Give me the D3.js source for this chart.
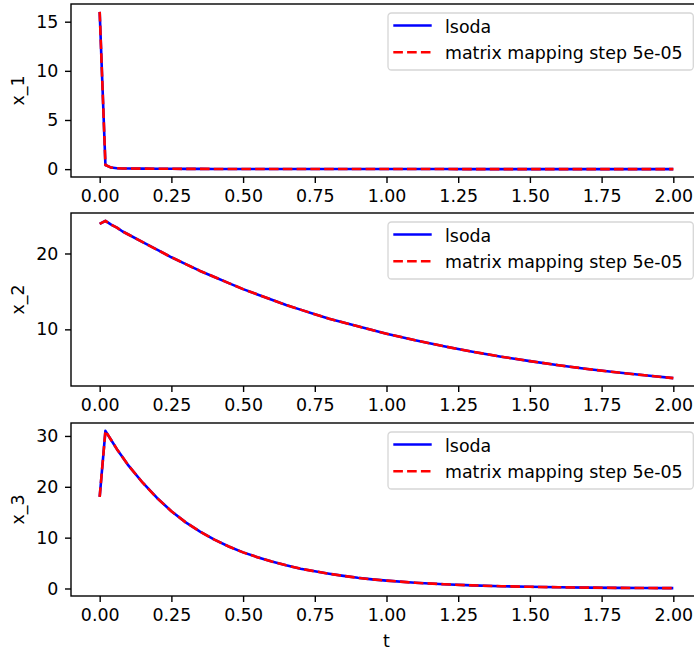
<!DOCTYPE html>
<html>
<head>
<meta charset="utf-8">
<script src="https://cdn.jsdelivr.net/npm/d3@7"></script>
<style>
    html, body { margin: 0; padding: 0; background: #ffffff; }
    svg { display: block; font-family: "DejaVu Sans", sans-serif; }
</style>
</head>
<body>
<svg></svg>
<script>

// time points
let tValues = [0, 0.02, 0.04, 0.06, 0.08, 0.1, 0.15, 0.2, 0.25, 0.3, 0.35, 0.4, 0.45, 0.5, 0.55,
               0.6, 0.65, 0.7, 0.75, 0.8, 0.85, 0.9, 0.95, 1.0,
               1.1, 1.2, 1.3, 1.4, 1.5, 1.6, 1.7, 1.8, 1.9, 2.0]

// lsoda solution
let x1Lsoda = [16.0, 0.42, 0.16, 0.09, 0.07, 0.06, 0.05, 0.04, 0.035, 0.03, 0.025, 0.02, 0.02, 0.02, 0.015,
               0.01, 0.01, 0.01, 0.01, 0.01, 0.01, 0.01, 0.01, 0.01,
               0.01, 0.01, 0.0, 0.0, 0.0, 0.0, 0.0, 0.0, 0.0, 0.0]
let x2Lsoda = [23.9, 24.3, 23.8, 23.4, 22.9, 22.5, 21.5, 20.5, 19.5, 18.6, 17.7, 16.9, 16.1, 15.3, 14.6,
               13.9, 13.2, 12.6, 12.0, 11.4, 10.9, 10.4, 9.9, 9.43,
               8.56, 7.77, 7.05, 6.40, 5.81, 5.27, 4.78, 4.34, 3.94, 3.57]
let x3Lsoda = [18.0, 31.0, 29.2, 27.4, 25.8, 24.2, 20.8, 17.8, 15.2, 13.0, 11.2, 9.6, 8.25, 7.1, 6.15,
               5.3, 4.55, 3.9, 3.38, 2.9, 2.48, 2.1, 1.8, 1.55,
               1.13, 0.83, 0.61, 0.45, 0.33, 0.24, 0.18, 0.13, 0.09, 0.07]

// matrix mapping solution (indistinguishable from lsoda in the picture)
let x1Mapping = x1Lsoda.slice()
let x2Mapping = x2Lsoda.slice()
let x3Mapping = x3Lsoda.slice()

// tick labels
let tTicks = [0, 0.25, 0.5, 0.75, 1.0, 1.25, 1.5, 1.75, 2.0]
let x1Ticks = [0, 5, 10, 15]
let x2Ticks = [10, 20]
let x3Ticks = [0, 10, 20, 30]

let seriesNames = ["lsoda", "matrix mapping step 5e-05"]
let yLabels = ["x_1", "x_2", "x_3"]

let width = 694
let height = 654
let left = 71
let right = 702
let panelTops = [4, 213, 423]
let panelHeight = 173
let fontSize = 17.4
let lineWidth = 2.6

let svg = d3.select("svg")
    .attr("width", width)
    .attr("height", height)

let xScale = d3.scaleLinear()
    .domain([-0.1, 2.1])
    .range([left, right])

let panels = [
    { lsoda: x1Lsoda, mapping: x1Mapping, ticks: x1Ticks },
    { lsoda: x2Lsoda, mapping: x2Mapping, ticks: x2Ticks },
    { lsoda: x3Lsoda, mapping: x3Mapping, ticks: x3Ticks }
]

let drawPanel = (panel, i) => {
    let top = panelTops[i]
    let bottom = top + panelHeight

    // matplotlib style 5% margins around the data
    let all = panel.lsoda.concat(panel.mapping)
    let lo = d3.min(all)
    let hi = d3.max(all)
    let pad = (hi - lo) * 0.05
    let yScale = d3.scaleLinear()
        .domain([lo - pad, hi + pad])
        .range([bottom, top])

    let g = svg.append("g")

    let xAxis = d3.axisBottom(xScale)
        .tickValues(tTicks)
        .tickFormat(d3.format(".2f"))
        .tickSizeInner(6)
        .tickSizeOuter(0)
        .tickPadding(6.6)

    let yAxis = d3.axisLeft(yScale)
        .tickValues(panel.ticks)
        .tickFormat(d3.format("d"))
        .tickSizeInner(6)
        .tickSizeOuter(0)
        .tickPadding(6.7)

    g.append("g")
        .attr("transform", "translate(0," + bottom + ")")
        .call(xAxis)

    g.append("g")
        .attr("transform", "translate(" + left + ",0)")
        .call(yAxis)

    g.selectAll(".domain").remove()
    g.selectAll(".tick line").attr("stroke", "#000").attr("stroke-width", 1.4)
    g.selectAll(".tick text")
        .attr("fill", "#000")
        .attr("font-family", "DejaVu Sans")
        .attr("font-size", fontSize)
    g.selectAll("g").attr("font-family", null).attr("font-size", null)

    let line = d3.line()
        .x((d, j) => xScale(tValues[j]))
        .y((d) => yScale(d))

    g.append("path")
        .datum(panel.lsoda)
        .attr("d", line)
        .attr("fill", "none")
        .attr("stroke", "#0000ff")
        .attr("stroke-width", lineWidth)
        .attr("stroke-linejoin", "round")

    g.append("path")
        .datum(panel.mapping)
        .attr("d", line)
        .attr("fill", "none")
        .attr("stroke", "#ff0000")
        .attr("stroke-width", lineWidth)
        .attr("stroke-dasharray", "9.6,4.2")
        .attr("stroke-linejoin", "round")

    // spines
    g.append("rect")
        .attr("x", left)
        .attr("y", top)
        .attr("width", right - left)
        .attr("height", panelHeight)
        .attr("fill", "none")
        .attr("stroke", "#000")
        .attr("stroke-width", 1.4)

    // y label
    g.append("text")
        .attr("transform", "translate(24," + (top + panelHeight / 2) + ") rotate(-90)")
        .attr("text-anchor", "middle")
        .attr("font-size", fontSize)
        .attr("fill", "#000")
        .text(yLabels[i])

    // legend
    let legend = g.append("g")
        .attr("transform", "translate(388," + (top + 9) + ")")

    legend.append("rect")
        .attr("width", 305.3)
        .attr("height", 57)
        .attr("rx", 3.5)
        .attr("fill", "#ffffff")
        .attr("fill-opacity", 0.8)
        .attr("stroke", "#cccccc")
        .attr("stroke-opacity", 0.8)
        .attr("stroke-width", 1.3)

    let colors = ["#0000ff", "#ff0000"]
    let dashes = [null, "9.6,4.2"]
    seriesNames.forEach((name, k) => {
        let rowY = 12.5 + k * 26.7
        legend.append("line")
            .attr("x1", 5.3)
            .attr("x2", 43.7)
            .attr("y1", rowY)
            .attr("y2", rowY)
            .attr("stroke", colors[k])
            .attr("stroke-width", lineWidth)
            .attr("stroke-dasharray", dashes[k])
        legend.append("text")
            .attr("x", 57)
            .attr("y", rowY + 7.2)
            .attr("font-size", fontSize)
            .attr("fill", "#000")
            .text(name)
    })
}

panels.forEach(drawPanel)

// x label on the bottom panel only
svg.append("text")
    .attr("x", (left + right) / 2)
    .attr("y", 647)
    .attr("text-anchor", "middle")
    .attr("font-size", fontSize)
    .attr("fill", "#000")
    .text("t")

</script>
</body>
</html>
